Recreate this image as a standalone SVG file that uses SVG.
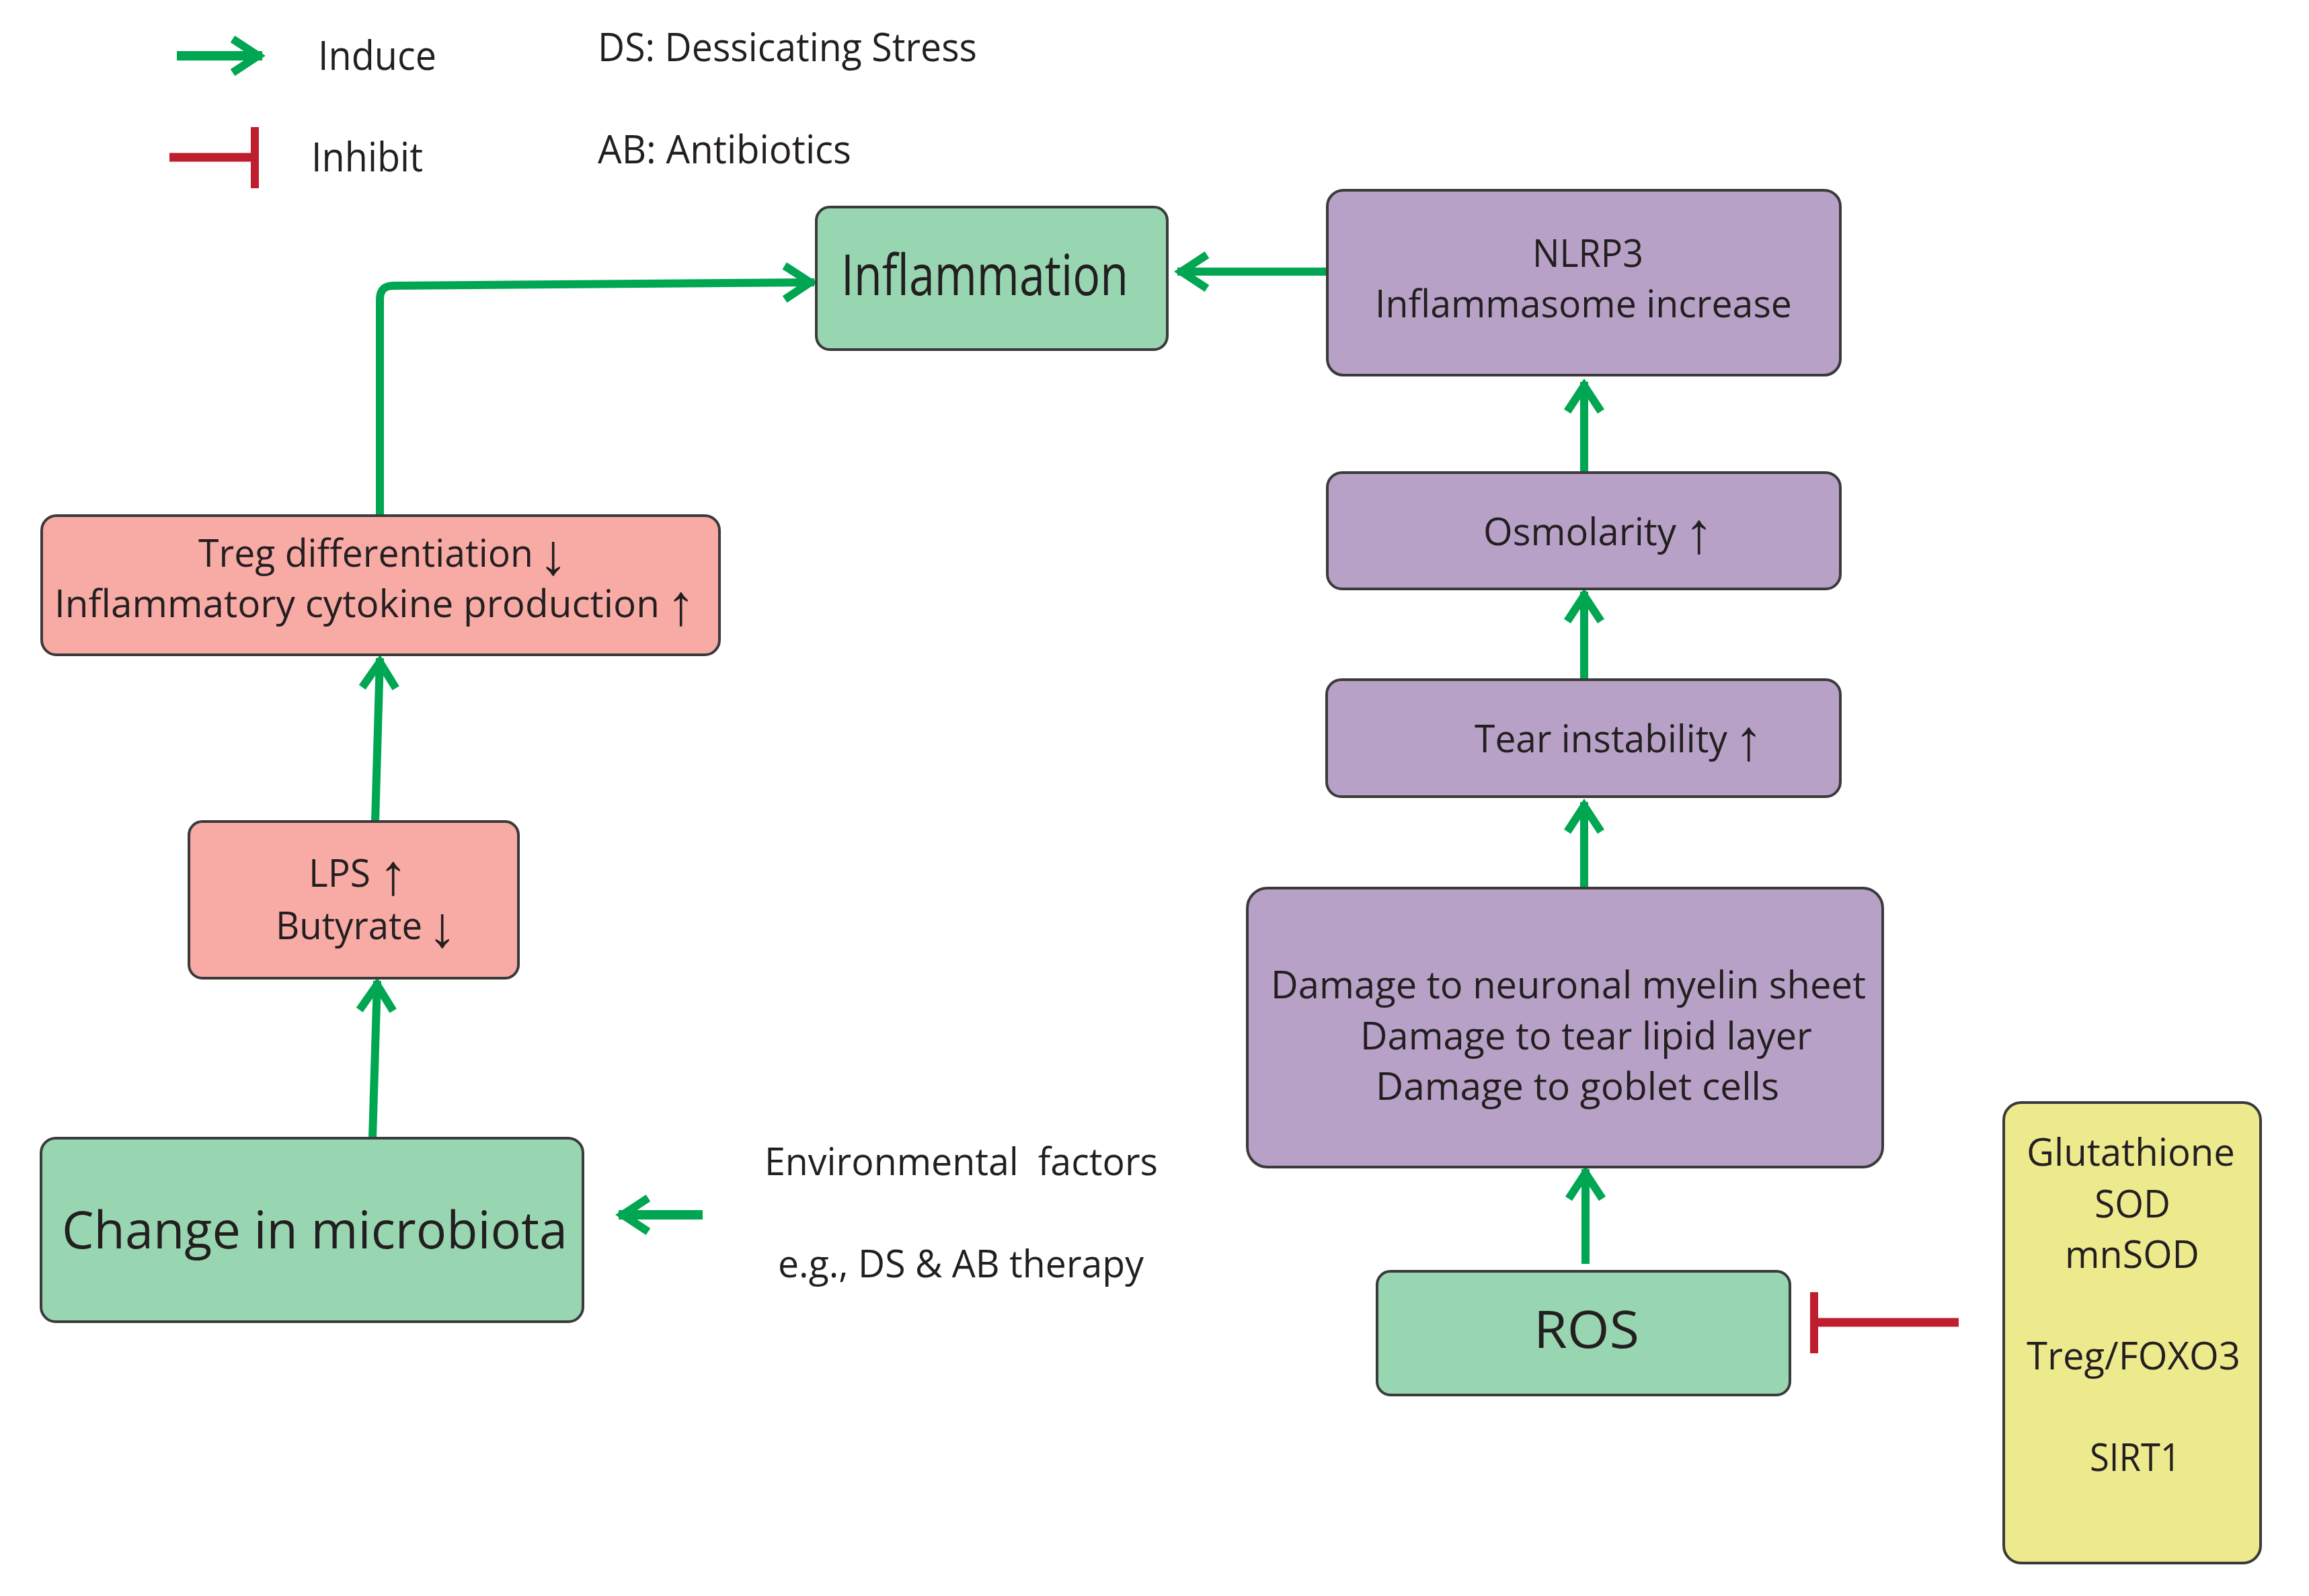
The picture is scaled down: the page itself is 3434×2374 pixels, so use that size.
<svg xmlns="http://www.w3.org/2000/svg" width="3434" height="2374" viewBox="0 0 3434 2374">
<style>
.box{stroke:#3a3a3a;stroke-width:4}
.g{fill:#98D6B1}.p{fill:#F8AAA5}.u{fill:#B8A1C6}.y{fill:#EDEA8E}
text{font-family:"Open Sans","Liberation Sans",sans-serif;fill:#231F20;font-size:56px}
.ar{font-family:"Liberation Sans","DejaVu Sans",sans-serif;font-size:86px}
.sp{font-size:1px}
.ind{stroke:#00A651;stroke-width:12;fill:none}
.inh{stroke:#BE1E2D;stroke-width:12;fill:none}
</style>
<defs>
<marker id="ah" markerUnits="userSpaceOnUse" orient="auto" refX="0" refY="0" markerWidth="100" markerHeight="100" overflow="visible">
<path d="M-44,-25 L-6,0 L-44,25" fill="none" stroke="#00A651" stroke-width="12"/>
</marker>
</defs>
<rect width="3434" height="2374" fill="#fff"/>
<g id="legend">
<line class="ind" x1="263" y1="83" x2="390" y2="83" marker-end="url(#ah)" style="stroke-width:14"/>
<text x="473" y="104" textLength="176" lengthAdjust="spacingAndGlyphs" style="font-size:60px">Induce</text>
<line class="inh" x1="252" y1="234" x2="379" y2="234" style="stroke-width:13"/>
<line class="inh" x1="379" y1="189" x2="379" y2="280"/>
<text x="463" y="255" textLength="166" lengthAdjust="spacingAndGlyphs" style="font-size:60px">Inhibit</text>
<text x="889" y="91" textLength="564" lengthAdjust="spacingAndGlyphs" style="font-size:58px">DS: Dessicating Stress</text>
<text x="889" y="243" textLength="377" lengthAdjust="spacingAndGlyphs" style="font-size:58px">AB: Antibiotics</text>
</g>
<g id="connectors">
<line class="ind" x1="554" y1="1693" x2="561" y2="1459" marker-end="url(#ah)"/>
<line class="ind" x1="558" y1="1222" x2="565" y2="979" marker-end="url(#ah)"/>
<path class="ind" d="M565,767 L565,445 Q565,425 585,425 L1211,420" marker-end="url(#ah)"/>
<line class="ind" x1="1974" y1="404" x2="1751" y2="404" marker-end="url(#ah)"/>
<line class="ind" x1="2356" y1="703" x2="2356" y2="568" marker-end="url(#ah)"/>
<line class="ind" x1="2356" y1="1011" x2="2356" y2="880" marker-end="url(#ah)"/>
<line class="ind" x1="2356" y1="1321" x2="2356" y2="1193" marker-end="url(#ah)"/>
<line class="ind" x1="2358" y1="1880" x2="2358" y2="1739" marker-end="url(#ah)"/>
<line class="ind" x1="1045" y1="1807" x2="920" y2="1807" marker-end="url(#ah)" style="stroke-width:14"/>
<line class="inh" x1="2913" y1="1967" x2="2698" y2="1967" style="stroke-width:13"/>
<line class="inh" x1="2698" y1="1922" x2="2698" y2="2013"/>
</g>
<g id="inflammation">
<rect class="box g" x="1214" y="308" width="522" height="212" rx="20"/>
<text x="1251" y="439" textLength="427" lengthAdjust="spacingAndGlyphs" style="font-size:85px">Inflammation</text>
</g>
<g id="nlrp3">
<rect class="box u" x="1974" y="283" width="763" height="275" rx="24"/>
<text x="2279" y="397" textLength="165" lengthAdjust="spacingAndGlyphs">NLRP3</text>
<text x="2045" y="472" textLength="620" lengthAdjust="spacingAndGlyphs">Inflammasome increase</text>
</g>
<g id="osmolarity">
<rect class="box u" x="1974" y="703" width="763" height="173" rx="22"/>
<text x="2206" y="811"><tspan textLength="287" lengthAdjust="spacingAndGlyphs">Osmolarity</tspan><tspan class="sp"> </tspan><tspan class="ar" x="2505" dy="11">↑</tspan></text>
</g>
<g id="tear">
<rect class="box u" x="1973" y="1011" width="764" height="174" rx="22"/>
<text x="2193" y="1119"><tspan textLength="376" lengthAdjust="spacingAndGlyphs">Tear instability</tspan><tspan class="sp"> </tspan><tspan class="ar" x="2579" dy="11">↑</tspan></text>
</g>
<g id="damage">
<rect class="box u" x="1855" y="1321" width="945" height="415" rx="30"/>
<text x="1890" y="1485" textLength="885" lengthAdjust="spacingAndGlyphs">Damage to neuronal myelin sheet</text>
<text x="2023" y="1561" textLength="672" lengthAdjust="spacingAndGlyphs">Damage to tear lipid layer</text>
<text x="2046" y="1636" textLength="600" lengthAdjust="spacingAndGlyphs">Damage to goblet cells</text>
</g>
<g id="ros">
<rect class="box g" x="2048" y="1891" width="614" height="184" rx="20"/>
<text x="2281" y="2005" textLength="157" lengthAdjust="spacingAndGlyphs" style="font-size:76px">ROS</text>
</g>
<g id="antioxidants">
<rect class="box y" x="2980" y="1640" width="382" height="685" rx="26"/>
<text x="3014" y="1734" textLength="310" lengthAdjust="spacingAndGlyphs">Glutathione</text>
<text x="3115" y="1811" textLength="113" lengthAdjust="spacingAndGlyphs">SOD</text>
<text x="3071" y="1886" textLength="200" lengthAdjust="spacingAndGlyphs">mnSOD</text>
<text x="3014" y="2037" textLength="318" lengthAdjust="spacingAndGlyphs">Treg/FOXO3</text>
<text x="3108" y="2188" textLength="135" lengthAdjust="spacingAndGlyphs">SIRT1</text>
</g>
<g id="treg">
<rect class="box p" x="62" y="767" width="1008" height="207" rx="22"/>
<text x="295" y="843"><tspan textLength="498" lengthAdjust="spacingAndGlyphs">Treg differentiation</tspan><tspan class="sp"> </tspan><tspan class="ar" x="801" dy="11">↓</tspan></text>
<text x="81" y="918"><tspan textLength="900" lengthAdjust="spacingAndGlyphs">Inflammatory cytokine production</tspan><tspan class="sp"> </tspan><tspan class="ar" x="991" dy="11">↑</tspan></text>
</g>
<g id="lps">
<rect class="box p" x="281" y="1222" width="490" height="233" rx="20"/>
<text x="459" y="1319"><tspan textLength="92" lengthAdjust="spacingAndGlyphs">LPS</tspan><tspan class="sp"> </tspan><tspan class="ar" x="563" dy="11">↑</tspan></text>
<text x="410" y="1397"><tspan textLength="218" lengthAdjust="spacingAndGlyphs">Butyrate</tspan><tspan class="sp"> </tspan><tspan class="ar" x="636" dy="11">↓</tspan></text>
</g>
<g id="microbiota">
<rect class="box g" x="61" y="1693" width="806" height="273" rx="22"/>
<text x="92" y="1857" textLength="752" lengthAdjust="spacingAndGlyphs" style="font-size:77px">Change in microbiota</text>
</g>
<g id="environment">
<text x="1137" y="1748" textLength="585" lengthAdjust="spacingAndGlyphs" xml:space="preserve">Environmental  factors</text>
<text x="1157" y="1900" textLength="544" lengthAdjust="spacingAndGlyphs">e.g., DS &amp; AB therapy</text>
</g>
</svg>
